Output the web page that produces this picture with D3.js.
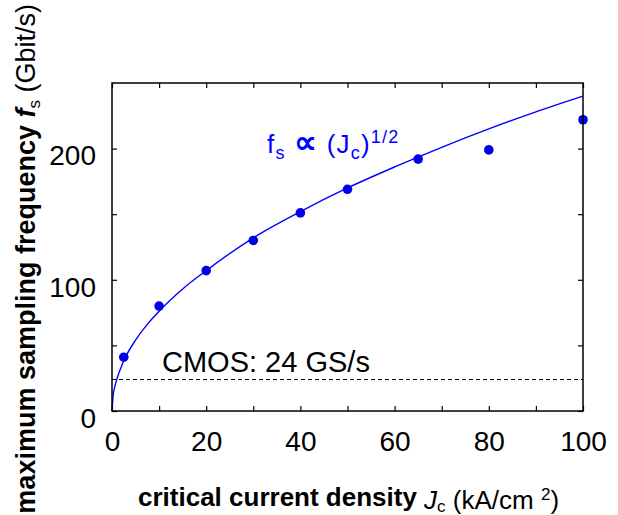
<!DOCTYPE html>
<html>
<head>
<meta charset="utf-8">
<script src="https://d3js.org/d3.v7.min.js"></script>
<style>
    body { margin: 0; background: #fff; }
    svg { font-family: "Liberation Sans", Arial, Helvetica, sans-serif; }
    .frame { fill: none; stroke: #000; stroke-width: 1.5px; }
    .tick line { stroke: #000; stroke-width: 1.2px; }
    .tick text { font-size: 28px; fill: #000; }
    .domain { stroke: none; }
</style>
</head>
<body>
<svg id="chart" width="618" height="515"></svg>
<script>
// measured points
const jc = [2.5, 10, 20, 30, 40, 50, 65, 80, 100];
const fs = [41, 80, 107, 130, 151, 169, 192, 199, 222];

// fitted curve fs ~ (Jc)^1/2
const fitJc = [0, 0.25, 0.5, 1, 2, 3, 5, 7.5, 10, 15, 20, 30, 40, 50, 60, 70, 80, 90, 100];
const fitFs = [0, 12, 17, 24, 34, 42, 54, 66, 76, 93, 107, 132, 152, 170, 186, 201, 215, 228, 240];

const cmosLevel = 24;

const xTicks = [0, 10, 20, 30, 40, 50, 60, 70, 80, 90, 100];
const xLabels = [0, 20, 40, 60, 80, 100];
const yTicks = [0, 50, 100, 150, 200];
const yLabels = [0, 100, 200];

const svg = d3.select("#chart");
const margin = { top: 83, right: 35, bottom: 104, left: 112 };
const W = 618 - margin.left - margin.right;
const H = 515 - margin.top - margin.bottom;

const x = d3.scaleLinear().domain([0, 100]).range([0, W]);
const y = d3.scaleLinear().domain([0, 250]).range([H, 0]);

const plot = svg.append("g").attr("transform", `translate(${margin.left},${margin.top})`);

// axes with inward ticks on all four sides
const fmtX = d => xLabels.includes(d) ? d : "";
const fmtY = d => yLabels.includes(d) ? d : "";

const bottom = plot.append("g").attr("transform", `translate(0,${H})`)
    .call(d3.axisBottom(x).tickValues(xTicks).tickSize(-5).tickPadding(20).tickFormat(fmtX));
bottom.selectAll(".tick text").attr("dy", "0.71em");

plot.append("g")
    .call(d3.axisTop(x).tickValues(xTicks).tickSize(-5).tickFormat(""));

const left = plot.append("g")
    .call(d3.axisLeft(y).tickValues(yTicks).tickSize(-5).tickPadding(16).tickFormat(fmtY));
left.selectAll(".tick text").attr("dy", "0.58em");

plot.append("g").attr("transform", `translate(${W},0)`)
    .call(d3.axisRight(y).tickValues(yTicks).tickSize(-5).tickFormat(""));

// CMOS level
plot.append("line")
    .attr("x1", x(0)).attr("x2", x(100))
    .attr("y1", y(cmosLevel)).attr("y2", y(cmosLevel))
    .attr("stroke", "#000").attr("stroke-width", 1)
    .attr("stroke-dasharray", "4,3");

plot.append("text")
    .attr("x", 50).attr("y", y(cmosLevel) - 8)
    .style("font-size", "29px")
    .text("CMOS: 24 GS/s");

// fit curve
const line = d3.line()
    .x((d, i) => x(fitJc[i]))
    .y(d => y(d))
    .curve(d3.curveMonotoneX);

plot.append("path")
    .datum(fitFs)
    .attr("fill", "none")
    .attr("stroke", "#0000ff")
    .attr("stroke-width", 1.4)
    .attr("d", line);

// points
plot.selectAll("circle")
    .data(fs)
    .join("circle")
    .attr("cx", (d, i) => x(jc[i]))
    .attr("cy", d => y(d))
    .attr("r", 4.8)
    .attr("fill", "#0000e8");

plot.append("rect").attr("class", "frame")
    .attr("x", 0).attr("y", 0).attr("width", W).attr("height", H);

// fit annotation
const ann = svg.append("text")
    .attr("x", 267).attr("y", 153)
    .attr("fill", "#0000ff")
    .style("font-size", "26px")
    .style("letter-spacing", "1.2px");
ann.append("tspan").text("f");
ann.append("tspan").attr("dy", 6).style("font-size", "18px").text("s");
ann.append("tspan").attr("dy", -6).text(" ");
ann.append("tspan").style("font-size", "32px").style("font-weight", "bold").text("\u221D");
ann.append("tspan").text(" (J");
ann.append("tspan").attr("dy", 6).style("font-size", "18px").text("c");
ann.append("tspan").attr("dy", -6).text(")");
ann.append("tspan").attr("dy", -10).style("font-size", "18px").text("1/2");

// x axis title
const xt = svg.append("text")
    .attr("x", 138).attr("y", 506)
    .style("font-size", "26px");
xt.append("tspan").style("font-weight", "bold").text("critical current density ");
xt.append("tspan").attr("dy", 3).style("font-style", "italic").text("J");
xt.append("tspan").attr("dy", 3).style("font-size", "17px").text("c");
xt.append("tspan").attr("dy", -3).text(" (kA/cm ");
xt.append("tspan").attr("dy", -9).style("font-size", "17px").text("2");
xt.append("tspan").attr("dy", 9).text(")");

// y axis title
const yt = svg.append("text")
    .attr("transform", "translate(35,4) rotate(-90)")
    .attr("text-anchor", "end")
    .style("font-size", "27px");
yt.append("tspan").style("font-weight", "bold").text("maximum sampling frequency ");
yt.append("tspan").style("font-style", "italic").style("font-weight", "bold").text("f");
yt.append("tspan").attr("dy", 5).style("font-size", "17px").text("s");
yt.append("tspan").attr("dy", -5).text(" (Gbit/s)");
</script>
</body>
</html>
